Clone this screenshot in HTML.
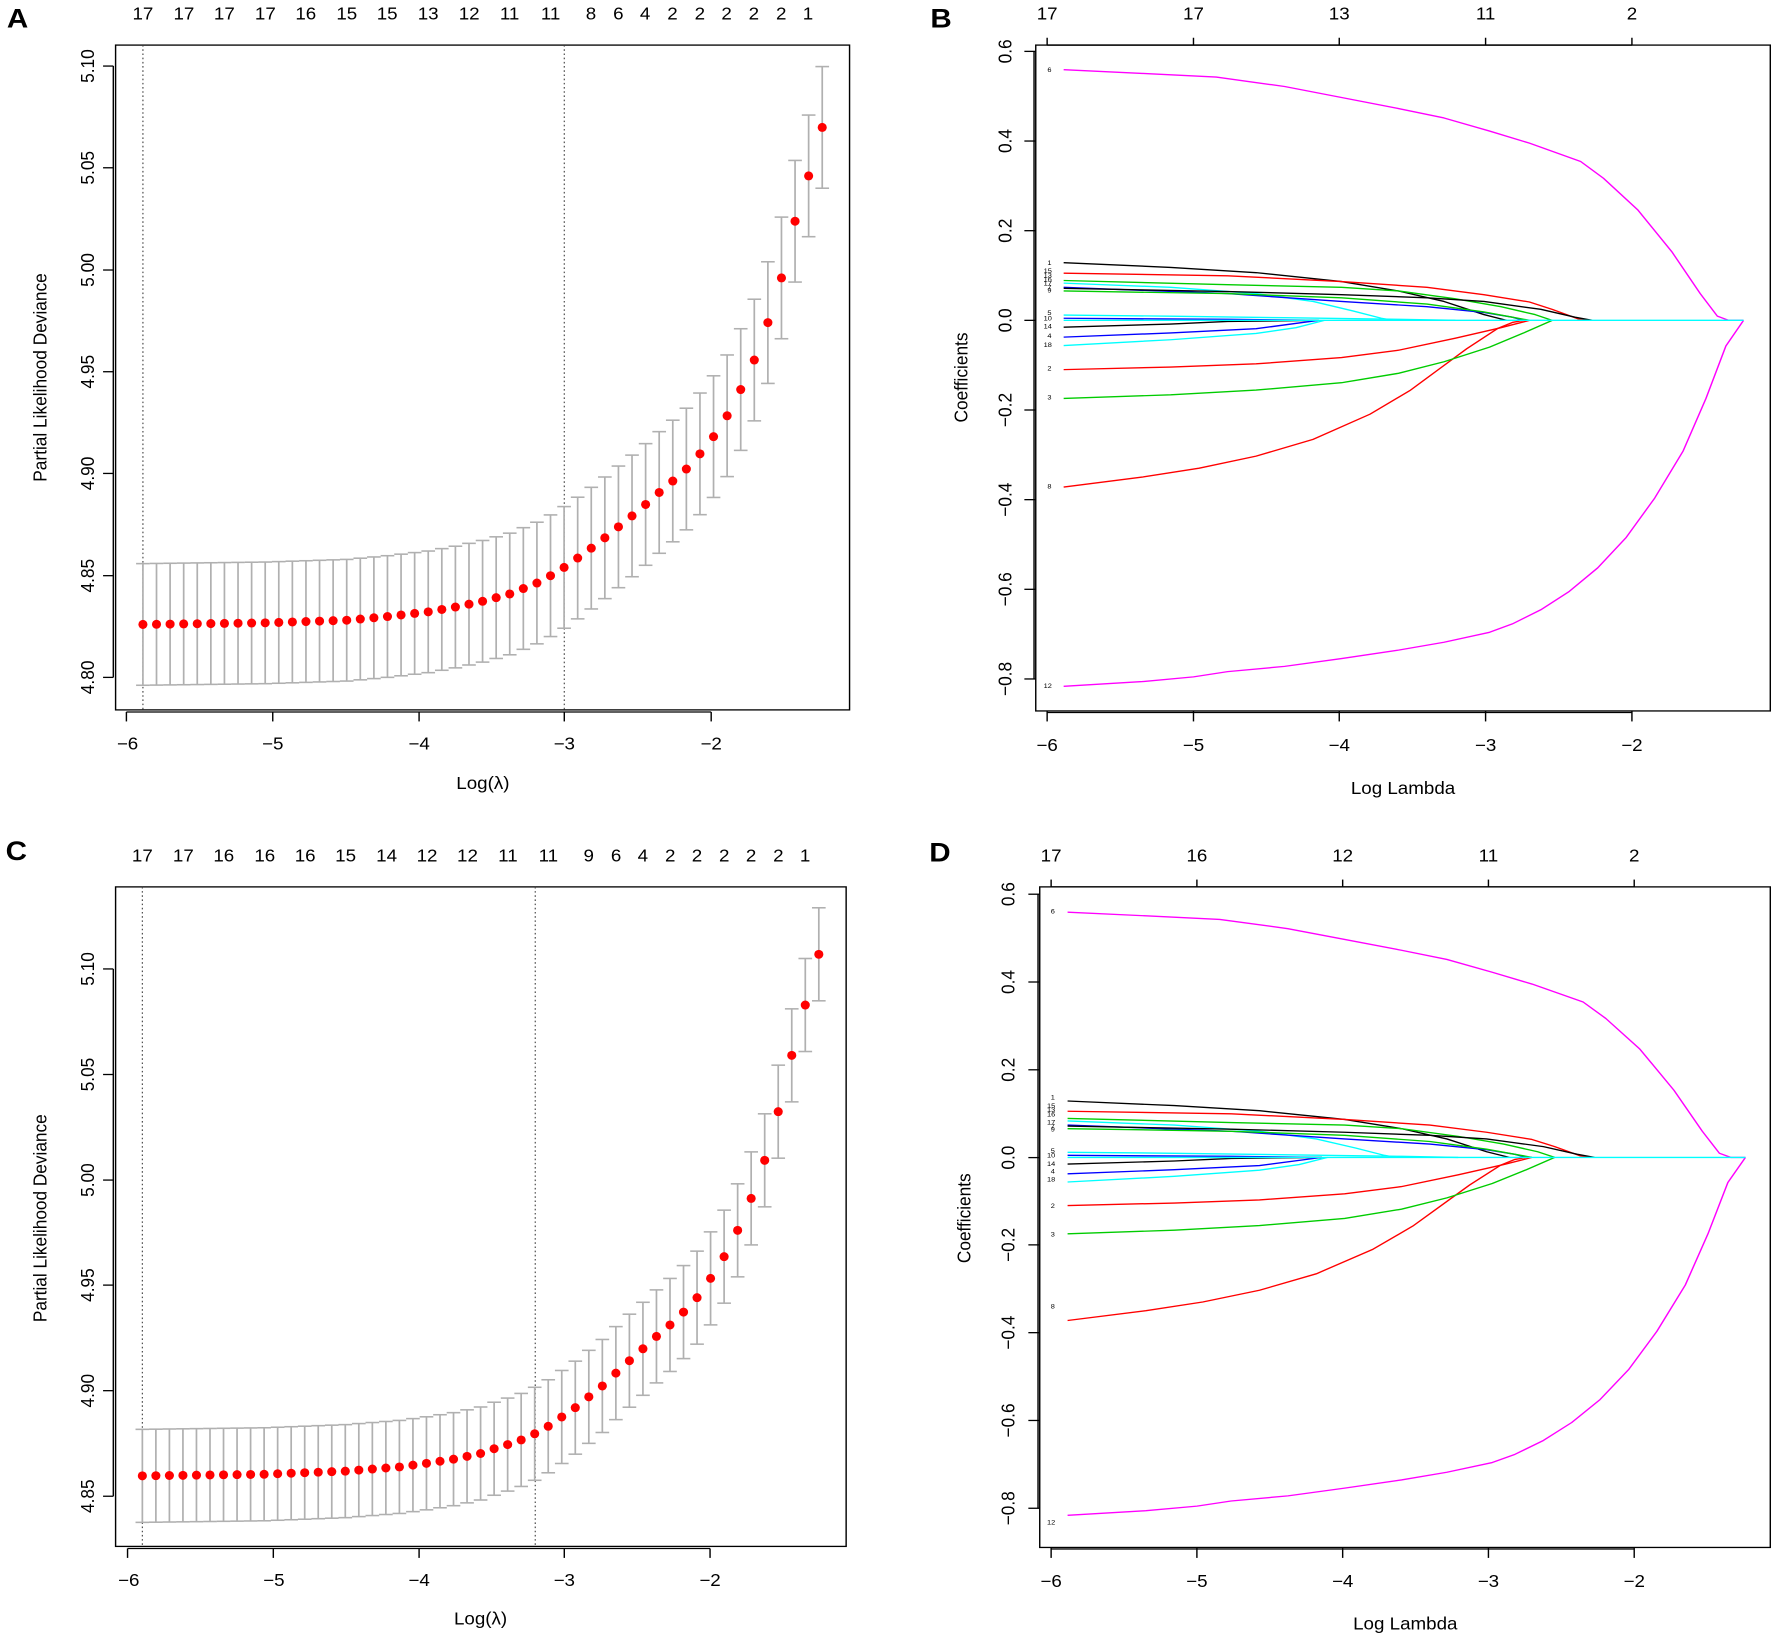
<!DOCTYPE html>
<html><head><meta charset="utf-8">
<style>
html,body{margin:0;padding:0;background:#fff;}
body{width:1772px;height:1641px;position:relative;overflow:hidden;}
svg{position:absolute;}
text{font-family:"Liberation Sans",Arial,sans-serif;fill:#000;}
</style></head><body>

<svg id="A" style="left:0;top:0" width="886" height="820" viewBox="0 0 1556 1564" preserveAspectRatio="none">
<text x="12" y="52" font-size="52" font-weight="bold">A</text>
<g font-size="33" text-anchor="middle">
<text x="251" y="37">17</text><text x="323" y="37">17</text><text x="394" y="37">17</text><text x="466" y="37">17</text><text x="537" y="37">16</text><text x="609" y="37">15</text><text x="680" y="37">15</text><text x="752" y="37">13</text><text x="824" y="37">12</text><text x="895" y="37">11</text><text x="967" y="37">11</text><text x="1038" y="37">8</text><text x="1086" y="37">6</text><text x="1133" y="37">4</text><text x="1181" y="37">2</text><text x="1229" y="37">2</text><text x="1276" y="37">2</text><text x="1324" y="37">2</text><text x="1372" y="37">2</text><text x="1419" y="37">1</text>
<text x="224" y="1430">−6</text><text x="479" y="1430">−5</text><text x="736" y="1430">−4</text><text x="991" y="1430">−3</text><text x="1249" y="1430">−2</text>
<text x="848" y="1505">Log(λ)</text>
<text transform="translate(165,126) rotate(-90)">5.10</text>
<text transform="translate(165,320) rotate(-90)">5.05</text>
<text transform="translate(165,515) rotate(-90)">5.00</text>
<text transform="translate(165,709) rotate(-90)">4.95</text>
<text transform="translate(165,903) rotate(-90)">4.90</text>
<text transform="translate(165,1098) rotate(-90)">4.85</text>
<text transform="translate(165,1292) rotate(-90)">4.80</text>
<text transform="translate(82,720) rotate(-90)">Partial Likelihood Deviance</text>
</g>
<g id="Ad"></g>
</svg>

<svg id="B" style="left:886px;top:0" width="886" height="820" viewBox="0 0 1556 1564" preserveAspectRatio="none">
<text x="78" y="52" font-size="52" font-weight="bold">B</text>
<g font-size="33" text-anchor="middle">
<text x="283" y="37">17</text><text x="540" y="37">17</text><text x="796" y="37">13</text><text x="1053" y="37">11</text><text x="1310" y="37">2</text>
<text x="283" y="1432">−6</text><text x="540" y="1432">−5</text><text x="796" y="1432">−4</text><text x="1053" y="1432">−3</text><text x="1310" y="1432">−2</text>
<text x="908" y="1514">Log Lambda</text>
<text transform="translate(220,98) rotate(-90)">0.6</text>
<text transform="translate(220,269) rotate(-90)">0.4</text>
<text transform="translate(220,440) rotate(-90)">0.2</text>
<text transform="translate(220,611) rotate(-90)">0.0</text>
<text transform="translate(220,782) rotate(-90)">−0.2</text>
<text transform="translate(220,953) rotate(-90)">−0.4</text>
<text transform="translate(220,1124) rotate(-90)">−0.6</text>
<text transform="translate(220,1295) rotate(-90)">−0.8</text>
<text transform="translate(143,720) rotate(-90)">Coefficients</text>
</g>
<g font-size="13" text-anchor="middle">
<text x="287" y="137">6</text><text x="287" y="505">1</text><text x="284" y="521">15</text><text x="284" y="529">13</text><text x="284" y="537">16</text><text x="284" y="545">17</text><text x="287" y="552">7</text><text x="287" y="558">9</text><text x="287" y="601">5</text><text x="284" y="611">10</text><text x="284" y="627">14</text><text x="287" y="645">4</text><text x="284" y="662">18</text><text x="287" y="707">2</text><text x="287" y="762">3</text><text x="287" y="932">8</text><text x="284" y="1312">12</text>
</g>
<g id="Bd"></g>
</svg>

<svg id="C" style="left:0;top:820px" width="886" height="821" viewBox="0 -2 1556 1571" preserveAspectRatio="none">
<text x="10" y="75" font-size="52" font-weight="bold">C</text>
<g font-size="33" text-anchor="middle">
<text x="250" y="77">17</text><text x="322" y="77">17</text><text x="393" y="77">16</text><text x="465" y="77">16</text><text x="536" y="77">16</text><text x="607" y="77">15</text><text x="679" y="77">14</text><text x="750" y="77">12</text><text x="821" y="77">12</text><text x="892" y="77">11</text><text x="963" y="77">11</text><text x="1034" y="77">9</text><text x="1082" y="77">6</text><text x="1129" y="77">4</text><text x="1177" y="77">2</text><text x="1224" y="77">2</text><text x="1272" y="77">2</text><text x="1319" y="77">2</text><text x="1367" y="77">2</text><text x="1414" y="77">1</text>
<text x="226" y="1464">−6</text><text x="481" y="1464">−5</text><text x="736" y="1464">−4</text><text x="991" y="1464">−3</text><text x="1247" y="1464">−2</text>
<text x="844" y="1537">Log(λ)</text>
<text transform="translate(165,283) rotate(-90)">5.10</text>
<text transform="translate(165,485) rotate(-90)">5.05</text>
<text transform="translate(165,687) rotate(-90)">5.00</text>
<text transform="translate(165,888) rotate(-90)">4.95</text>
<text transform="translate(165,1090) rotate(-90)">4.90</text>
<text transform="translate(165,1292) rotate(-90)">4.85</text>
<text transform="translate(82,760) rotate(-90)">Partial Likelihood Deviance</text>
</g>
<g id="Cd"></g>
</svg>

<svg id="D" style="left:886px;top:820px" width="886" height="821" viewBox="0 -2 1556 1571" preserveAspectRatio="none">
<text x="76" y="77" font-size="52" font-weight="bold">D</text>
<g font-size="33" text-anchor="middle">
<text x="290" y="77">17</text><text x="546" y="77">16</text><text x="802" y="77">12</text><text x="1058" y="77">11</text><text x="1314" y="77">2</text>
<text x="290" y="1466">−6</text><text x="546" y="1466">−5</text><text x="802" y="1466">−4</text><text x="1058" y="1466">−3</text><text x="1314" y="1466">−2</text>
<text x="912" y="1547">Log Lambda</text>
<text transform="translate(226,140) rotate(-90)">0.6</text>
<text transform="translate(226,308) rotate(-90)">0.4</text>
<text transform="translate(226,476) rotate(-90)">0.2</text>
<text transform="translate(226,644) rotate(-90)">0.0</text>
<text transform="translate(226,811) rotate(-90)">−0.2</text>
<text transform="translate(226,979) rotate(-90)">−0.4</text>
<text transform="translate(226,1147) rotate(-90)">−0.6</text>
<text transform="translate(226,1315) rotate(-90)">−0.8</text>
<text transform="translate(148,760) rotate(-90)">Coefficients</text>
</g>
<g font-size="13" text-anchor="middle">
<text x="293" y="177">6</text><text x="293" y="533">1</text><text x="290" y="549">15</text><text x="290" y="557">13</text><text x="290" y="565">16</text><text x="290" y="581">17</text><text x="293" y="588">7</text><text x="293" y="594">9</text><text x="293" y="635">5</text><text x="290" y="644">10</text><text x="290" y="660">14</text><text x="293" y="674">4</text><text x="290" y="690">18</text><text x="293" y="740">2</text><text x="293" y="795">3</text><text x="293" y="933">8</text><text x="290" y="1346">12</text>
</g>
<g id="Dd"></g>
</svg>

<script>
var NS="http://www.w3.org/2000/svg";
function el(p,n,a){var e=document.createElementNS(NS,n);for(var k in a)e.setAttribute(k,a[k]);p.appendChild(e);return e;}
function interp(t,x){for(var i=0;i<t.length-1;i++){if(x<=t[i+1][0]){var a=t[i],b=t[i+1];return a[1]+(b[1]-a[1])*(x-a[0])/(b[0]-a[0]);}}return t[t.length-1][1];}
function cv(g,o){
  el(g,"rect",{x:o.box[0],y:o.box[1],width:o.box[2]-o.box[0],height:o.box[3]-o.box[1],fill:"none",stroke:"#000","stroke-width":2.5});
  el(g,"line",{x1:o.xt[0],x2:o.xt[o.xt.length-1],y1:o.box[3]+4,y2:o.box[3]+4,stroke:"#000","stroke-width":2.5});
  o.xt.forEach(function(x){el(g,"line",{x1:x,x2:x,y1:o.box[3]+4,y2:o.box[3]+22,stroke:"#000","stroke-width":2.5});});
  el(g,"line",{x1:o.box[0]-4,x2:o.box[0]-4,y1:o.yt[0],y2:o.yt[o.yt.length-1],stroke:"#000","stroke-width":2.5});
  o.yt.forEach(function(y){el(g,"line",{x1:o.box[0]-4,x2:o.box[0]-22,y1:y,y2:y,stroke:"#000","stroke-width":2.5});});
  o.vl.forEach(function(x){el(g,"line",{x1:x,x2:x,y1:o.box[1],y2:o.box[3],stroke:"#444","stroke-width":2,"stroke-dasharray":"3,5"});});
  var n=51;
  for(var i=0;i<n;i++){
    var x=o.x0+(o.x1-o.x0)*i/(n-1), y=interp(o.tab,x), h=o.hw;
    el(g,"line",{x1:x,x2:x,y1:y-h,y2:y+h,stroke:"#b0b0b0","stroke-width":3});
    el(g,"line",{x1:x-12,x2:x+12,y1:y-h,y2:y-h,stroke:"#b0b0b0","stroke-width":3});
    el(g,"line",{x1:x-12,x2:x+12,y1:y+h,y2:y+h,stroke:"#b0b0b0","stroke-width":3});
  }
  for(var i=0;i<n;i++){
    var x=o.x0+(o.x1-o.x0)*i/(n-1), y=interp(o.tab,x);
    el(g,"ellipse",{cx:x,cy:y,rx:8,ry:8.6,fill:"#ff0000"});
  }
}
cv(document.getElementById("Ad"),{box:[203,86,1492,1354],xt:[222,479,736,991,1249],yt:[126,320,515,709,903,1098,1292],vl:[251,991],x0:251,x1:1444,hw:116,
tab:[[251,1191],[466,1188],[609,1183],[680,1176],[752,1167],[799,1158],[847,1147],[895,1133],[943,1112],[967,1098],[991,1082],[1015,1064],[1039,1045],[1062,1026],[1086,1005],[1110,984],[1134,962],[1158,939],[1182,917],[1206,894],[1229,866],[1253,833],[1277,793],[1300,745],[1325,686],[1349,614],[1373,528],[1396,423],[1420,336],[1444,243]]});
cv(document.getElementById("Cd"),{box:[203,126,1486,1388],xt:[224,480,736,991,1247],yt:[283,485,687,888,1090,1292],vl:[250,940],x0:250,x1:1438,hw:89,
tab:[[250,1253],[463,1250],[606,1244],[701,1236],[749,1229],[797,1221],[845,1210],[868,1201],[892,1193],[916,1184],[940,1172],[963,1158],[987,1140],[1011,1122],[1035,1101],[1059,1080],[1082,1056],[1106,1032],[1130,1009],[1154,985],[1178,963],[1201,939],[1225,911],[1248,875],[1272,833],[1296,782],[1320,720],[1344,646],[1367,555],[1391,446],[1414,353],[1438,255]]});

var curves=[
["#ff00ff",[[312,1309],[450,1300],[540,1291],[600,1281],[700,1271],[800,1256],[900,1240],[980,1225],[1060,1206],[1100,1190],[1150,1163],[1200,1128],[1250,1083],[1300,1025],[1350,950],[1400,860],[1440,760],[1475,660],[1506,611]]],
["#ff00ff",[[312,133],[450,140],[580,147],[700,165],[800,186],[900,207],[980,225],[1060,250],[1130,273],[1220,308],[1260,340],[1320,400],[1380,480],[1430,560],[1460,603],[1480,611],[1506,611]]],
["#ff0000",[[312,929],[450,910],[550,893],[650,870],[750,838],[850,790],[920,745],[970,705],[1020,665],[1075,626],[1100,615],[1120,611]]],
["#ff0000",[[312,705],[500,700],[650,694],[800,682],[900,668],[1000,645],[1080,625],[1130,611]]],
["#00cc00",[[312,760],[500,753],[650,744],[800,730],[900,712],[980,690],[1060,662],[1120,635],[1170,611]]],
["#000000",[[312,501],[500,510],[650,520],[800,537],[900,555],[980,575],[1050,600],[1090,611]]],
["#ff0000",[[312,521],[600,526],[800,537],[950,548],[1050,562],[1130,576],[1170,590],[1215,608],[1230,611]]],
["#00cc00",[[312,535],[600,543],[800,548],[900,555],[1000,570],[1080,585],[1140,600],[1170,611]]],
["#00ffff",[[312,540],[500,548],[650,560],[750,575],[820,593],[870,607],[890,611]]],
["#0000ff",[[312,548],[600,560],[800,575],[950,585],[1050,596],[1100,605],[1120,611]]],
["#000000",[[312,550],[600,556],[800,562],[950,568],[1050,575],[1150,590],[1210,605],[1240,611]]],
["#00cc00",[[312,555],[600,560],[800,568],[950,580],[1050,595],[1100,605],[1130,611]]],
["#00ffff",[[312,601],[500,603],[700,606],[900,609],[1000,611]]],
["#0000ff",[[312,607],[600,609],[760,611]]],
["#000000",[[312,624],[500,618],[600,613],[760,611]]],
["#0000ff",[[312,643],[500,635],[650,627],[760,611]]],
["#00ffff",[[312,659],[500,648],[650,636],[720,625],[770,611]]],
["#00ffff",[[312,611],[1506,611]]]
];
function coef(g,o){
  el(g,"rect",{x:o.box[0],y:o.box[1],width:o.box[2]-o.box[0],height:o.box[3]-o.box[1],fill:"none",stroke:"#000","stroke-width":2.5});
  el(g,"line",{x1:o.xt[0],x2:o.xt[4],y1:o.box[3]+3,y2:o.box[3]+3,stroke:"#000","stroke-width":2.5});
  o.xt.forEach(function(x){el(g,"line",{x1:x,x2:x,y1:o.box[3],y2:o.box[3]+20,stroke:"#000","stroke-width":2.5});
    el(g,"line",{x1:x,x2:x,y1:o.box[1],y2:o.box[1]-14,stroke:"#000","stroke-width":2.5});});
  el(g,"line",{x1:o.xt[0],x2:o.xt[4],y1:o.box[1],y2:o.box[1],stroke:"#000","stroke-width":2.5});
  el(g,"line",{x1:o.box[0]-3,x2:o.box[0]-3,y1:o.yt[0],y2:o.yt[o.yt.length-1],stroke:"#000","stroke-width":2.5});
  o.yt.forEach(function(y){el(g,"line",{x1:o.box[0],x2:o.box[0]-20,y1:y,y2:y,stroke:"#000","stroke-width":2.5});});
  curves.forEach(function(c){
    var pts=c[1].map(function(p){return (o.ox+(p[0]-283)*o.sx).toFixed(1)+","+(o.oy+(p[1]-611)*o.sy).toFixed(1);}).join(" ");
    el(g,"polyline",{points:pts,fill:"none",stroke:c[0],"stroke-width":2.6,"stroke-linejoin":"round"});
  });
}
coef(document.getElementById("Bd"),{box:[263,86,1553,1356],xt:[283,540,796,1053,1310],yt:[98,269,440,611,782,953,1124,1295],ox:283,oy:611,sx:1,sy:1});
coef(document.getElementById("Dd"),{box:[270,126,1553,1390],xt:[290,546,802,1058,1314],yt:[140,308,476,644,811,979,1147,1315],ox:290,oy:643.6,sx:256/256.75,sy:167.9/171.1});
</script>
</body></html>
